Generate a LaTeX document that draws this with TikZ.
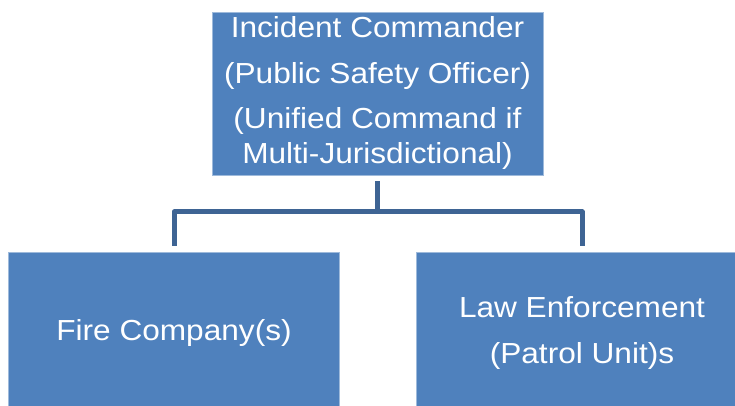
\documentclass[tikz,border=0pt]{standalone}
\usepackage{fontspec}
\setmainfont{Liberation Sans}[FakeStretch=1.09]
\usetikzlibrary{positioning}
\definecolor{boxblue}{RGB}{79,129,189}
\definecolor{linkblue}{RGB}{62,100,148}
\begin{document}
\begin{tikzpicture}[x=1pt, y=1pt,
    orgbox/.style={draw=boxblue!55!white, line width=0.8pt, fill=boxblue, text=white,
      align=center, minimum width=331pt, minimum height=163pt, inner sep=0pt,
      font=\fontsize{29}{35}\selectfont},
    link/.style={draw=linkblue, line width=5pt, line join=round}]
    \useasboundingbox (0,0) rectangle (735,406);
    \clip (0,0) rectangle (735,406);

    % Commander
    \node[orgbox] (cmd) at (377.5,312.5) {Incident Commander\\[11pt](Public Safety Officer)\\[10pt](Unified Command if\\Multi-Jurisdictional)};

    % Units
    \node[orgbox] (fire) at (174,72.5) {Fire Company(s)};
    \node[orgbox] (law) at (582,72.5) {Law Enforcement\\[11pt](Patrol Unit)s};

    % Links
    \coordinate (fork) at (377.5,194);
    \draw[link] ([yshift=-6pt]cmd.south) -- (fork);
    \draw[link] ([yshift=6pt]fire.north) |- (fork) -| ([yshift=6pt]law.north);

\end{tikzpicture}
\end{document}
